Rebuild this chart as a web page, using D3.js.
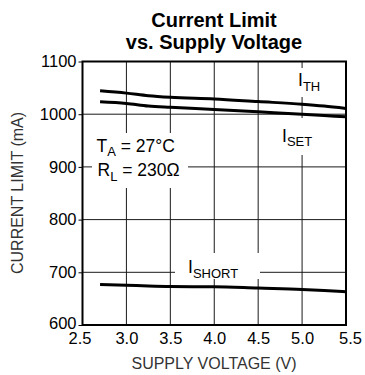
<!DOCTYPE html>
<html>
<head>
<meta charset="utf-8">
<script src="https://cdn.jsdelivr.net/npm/d3@7"></script>
<style>
  html, body { margin: 0; padding: 0; background: #fff; }
  svg { display: block; font-family: "Liberation Sans", Arial, Helvetica, sans-serif; }
</style>
</head>
<body>
<svg id="chart" width="365" height="375"></svg>
<script>
// Supply voltage sample points (V)
const voltage = [2.7, 3.0, 3.25, 3.5, 4.0, 4.5, 5.0, 5.25, 5.5];
// Current limits (mA)
const iTh    = [1044.5, 1040, 1035, 1032, 1029, 1024, 1019, 1015.5, 1011];
const iSet   = [1023.5, 1020.5, 1015.5, 1013, 1009, 1004.5, 1000, 997.5, 995];
const iShort = [677, 675.5, 674, 673, 672.5, 670, 667.5, 665.5, 663];

const xTicks = [2.5, 3.0, 3.5, 4.0, 4.5, 5.0, 5.5];
const yTicks = [600, 700, 800, 900, 1000, 1100];

const svg = d3.select("#chart");
const plotL = 82.5, plotR = 346, plotT = 61.5, plotB = 325;

const x = d3.scaleLinear().domain([2.5, 5.5]).range([plotL, plotR]);
const y = d3.scaleLinear().domain([600, 1100]).range([plotB, plotT]);

// Title
const title = svg.append("text")
  .attr("x", 214).attr("text-anchor", "middle")
  .attr("font-weight", "bold").attr("font-size", 20).attr("fill", "#000");
title.append("tspan").attr("x", 214).attr("y", 27).text("Current Limit");
title.append("tspan").attr("x", 214).attr("y", 48.5).text("vs. Supply Voltage");

// Grid lines
const grid = svg.append("g").attr("stroke", "#1a1a1a").attr("stroke-width", 1);
grid.selectAll("line.v").data(xTicks.slice(1, -1)).join("line")
  .attr("x1", d => x(d)).attr("x2", d => x(d))
  .attr("y1", plotT).attr("y2", plotB);
grid.selectAll("line.h").data(yTicks.slice(1, -1)).join("line")
  .attr("x1", plotL).attr("x2", plotR)
  .attr("y1", d => y(d)).attr("y2", d => y(d));

// White panels behind the in-plot labels
const panels = [
  { x0: 292, x1: 326, y0: 68, y1: 97 },    // I_TH
  { x0: 276, x1: 318, y0: 118, y1: 155 },  // I_SET
  { x0: 92,  x1: 188, y0: 133, y1: 188 },  // T_A / R_L
  { x0: 175, x1: 260, y0: 253, y1: 279 }   // I_SHORT
];
svg.append("g").selectAll("rect").data(panels).join("rect")
  .attr("x", d => d.x0).attr("y", d => d.y0)
  .attr("width", d => d.x1 - d.x0).attr("height", d => d.y1 - d.y0)
  .attr("fill", "#fff");

// Curves
const line = d3.line().curve(d3.curveMonotoneX);
const seriesList = [iTh, iSet, iShort];
svg.append("g").selectAll("path").data(seriesList).join("path")
  .attr("d", s => line(s.map((v, i) => [x(voltage[i]), y(v)])))
  .attr("fill", "none").attr("stroke", "#000").attr("stroke-width", 3)
  .attr("stroke-linejoin", "round");

// Frame
svg.append("rect")
  .attr("x", plotL).attr("y", plotT)
  .attr("width", plotR - plotL).attr("height", plotB - plotT)
  .attr("fill", "none").attr("stroke", "#000").attr("stroke-width", 2);

// Y axis
const yAxis = svg.append("g")
  .attr("transform", `translate(${plotL},0)`)
  .call(d3.axisLeft(y).tickValues(yTicks).tickSize(4).tickPadding(2).tickFormat(d3.format("d")));
yAxis.select(".domain").remove();
yAxis.selectAll("line").attr("stroke", "#000").attr("stroke-width", 1);
yAxis.selectAll("text").attr("font-size", 16.5).attr("fill", "#000")
  .attr("font-family", "'Liberation Sans', Arial, sans-serif");
yAxis.selectAll(".tick").filter(d => d === 600).select("text").attr("dy", "0.2em");

// X axis
const xAxis = svg.append("g")
  .attr("transform", `translate(0,${plotB})`)
  .call(d3.axisBottom(x).tickValues(xTicks).tickSize(0).tickPadding(7).tickFormat(d3.format(".1f")));
xAxis.select(".domain").remove();
xAxis.selectAll("text").attr("font-size", 16.5).attr("fill", "#000")
  .attr("font-family", "'Liberation Sans', Arial, sans-serif");
xAxis.selectAll(".tick").filter(d => d === 2.5).select("text").attr("dx", -3);
xAxis.selectAll(".tick").filter(d => d === 5.5).select("text").attr("dx", 4);

// Axis titles
svg.append("text")
  .attr("x", 214).attr("y", 369)
  .attr("text-anchor", "middle").attr("font-size", 16).attr("fill", "#333")
  .text("SUPPLY VOLTAGE (V)");
svg.append("text")
  .attr("transform", "translate(23,193) rotate(-90)")
  .attr("text-anchor", "middle").attr("font-size", 16).attr("fill", "#333")
  .text("CURRENT LIMIT (mA)");

// Labels with subscripts
function subLabel(xp, yp, main, sub, rest) {
  const t = svg.append("text").attr("x", xp).attr("y", yp)
    .attr("font-size", 17.5).attr("fill", "#000");
  t.append("tspan").text(main);
  t.append("tspan").attr("font-size", 13).attr("dy", 4.5).text(sub);
  if (rest) t.append("tspan").attr("dy", -4.5).text(rest);
}
subLabel(298, 86, "I", "TH");
subLabel(282, 141.5, "I", "SET");
subLabel(96.5, 151.5, "T", "A", " = 27°C");
subLabel(97.5, 176, "R", "L", " = 230Ω");
subLabel(188, 273, "I", "SHORT");
</script>
</body>
</html>
